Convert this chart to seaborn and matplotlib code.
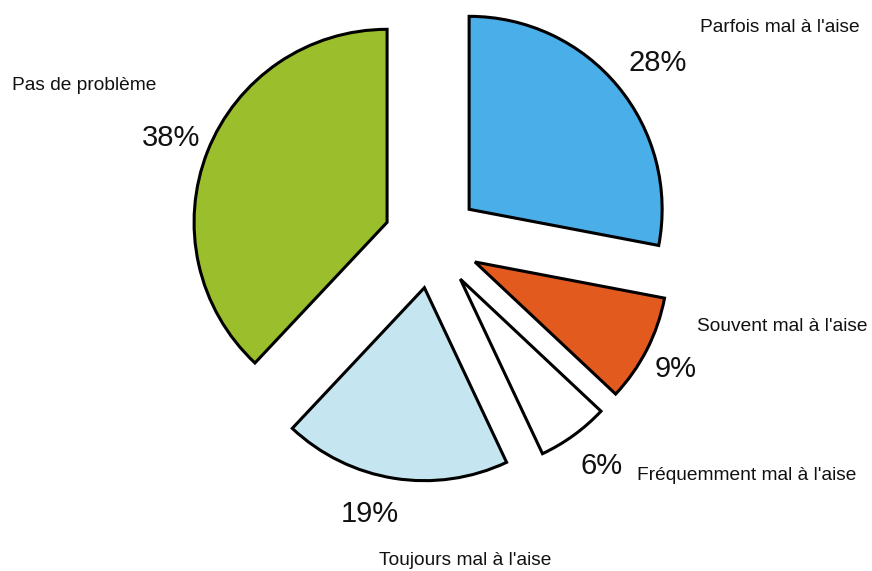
import matplotlib
matplotlib.use('Agg')
import matplotlib.pyplot as plt
import seaborn as sns

sns.set_style('white')
plt.rcParams['font.family'] = ['Liberation Sans', 'DejaVu Sans']

categories = ["Parfois mal à l'aise", "Souvent mal à l'aise", "Fréquemment mal à l'aise",
              "Toujours mal à l'aise", "Pas de problème"]
percents = [28, 9, 6, 19, 38]
colors = ['#4aaee8', '#e35a1f', '#ffffff', '#c5e6f0', '#9bbf2c']

# where the texts go (data units, pie radius = 1)
pct_pos = [(1.17, 0.92), (1.26, -0.67), (0.88, -1.17), (-0.32, -1.42), (-1.35, 0.53)]
name_pos = [(1.80, 1.10), (1.815, -0.45), (1.63, -1.22), (0.17, -1.66), (-1.80, 0.80)]

fig = plt.figure(figsize=(8.72, 5.71), dpi=100)
ax = fig.add_axes([0, 0, 1, 1])

ax.pie(percents, explode=[0.25] * len(percents), colors=colors, startangle=90,
       counterclock=False, wedgeprops=dict(edgecolor='black', linewidth=2.2))

for p, name, pp, npos in zip(percents, categories, pct_pos, name_pos):
    ax.text(pp[0], pp[1], f'{p}%', fontsize=21, ha='center', va='center', color='#111111')
    ax.text(npos[0], npos[1], name, fontsize=13.8, ha='center', va='center', color='#111111')

ax.set_xlim(-2.238, 2.280)
ax.set_ylim(-1.715, 1.244)
ax.set_aspect('auto')
ax.axis('off')

fig.savefig('out.png', dpi=100, facecolor='white')
